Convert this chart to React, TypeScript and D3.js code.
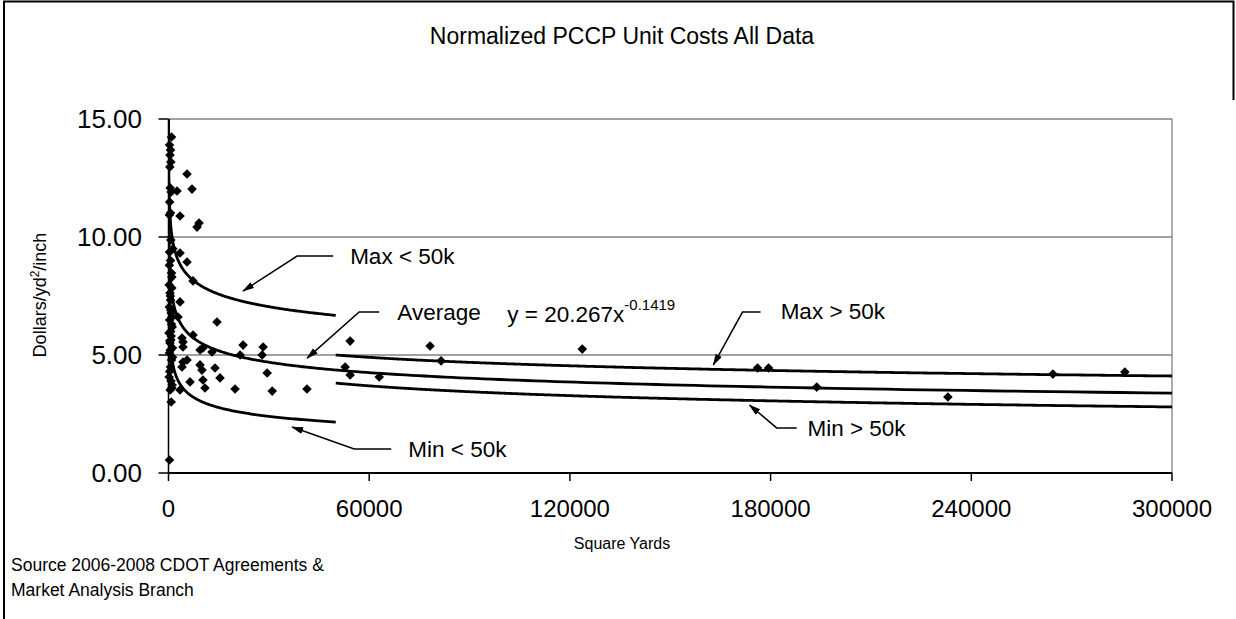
import React from "react";
import * as d3 from "d3";

// ---- data ----
const sqYards = [
  900, 300, 600, 450, 700, 400, 500, 800, 350, 600, 250, 700, 300, 900, 200, 1000, 450, 600, 250, 800,
  350, 1100, 150, 700, 450, 1200, 300, 900, 600, 200, 1100, 500, 800, 300, 1300, 600, 250, 1000, 700, 900, 800,
  500, 1200, 350, 750, 1000, 400, 650, 550,
  3440, 5540, 7330, 5540, 7030, 3440, 8530, 9130, 3440, 4040, 2540, 2840, 1050, 7330, 4340, 4340, 9430, 10300,
  13000, 22300, 28300, 21400, 28000, 4340, 5540, 4040, 9430, 10000, 13900, 15400, 10300, 10900, 19900, 6430,
  3440, 14500, 29500, 31000, 41400, 54300, 52800, 54300, 63000, 78200, 81500, 123700, 176100, 179400, 193800,
  233000, 264400, 285900,
];
const unitCost = [
  14.24, 13.9, 13.69, 13.47, 13.18, 12.97, 12.08, 11.91, 11.48, 11.02, 10.93, 9.87, 9.36, 8.47, 7.97, 7.84, 7.63,
  7.33, 7.03, 6.78, 6.48, 6.19, 5.93, 5.64, 5.51, 5.3, 5.08, 4.79, 4.49, 4.07, 3.73, 3.52, 3.01, 0.55, 9.5, 9.0,
  8.8, 8.3, 6.9, 6.3, 5.8, 5.2, 4.9, 4.3, 3.9, 3.6, 5.6, 6.0, 7.5,
  9.32, 8.94, 8.14, 12.67, 12.03, 10.89, 10.42, 10.59, 7.25, 5.72, 11.95, 6.61, 6.61, 5.85, 5.55, 5.34, 5.21, 5.3,
  5.13, 5.42, 5.34, 5.0, 5.0, 4.7, 4.79, 4.49, 4.58, 4.36, 4.45, 4.03, 3.94, 3.6, 3.56, 3.86,
  3.52, 6.4, 4.24, 3.47, 3.56, 5.59, 4.49, 4.15, 4.07, 5.38, 4.75, 5.25, 4.45, 4.45, 3.64,
  3.22, 4.19, 4.28,
];

// power-law curves y = a * x^b
const curveNames = ["Max < 50k", "Average", "Min < 50k", "Max > 50k", "Min > 50k"];
const curveCoef = [20.8, 20.267, 20.5, 16.35, 24.5];
const curveExp = [-0.105, -0.1419, -0.208, -0.1095, -0.172];
const curveFrom = [10, 10, 10, 50000, 50000];
const curveTo = [50000, 300000, 50000, 300000, 300000];

// callout labels: arrow path in data coords (last point = arrow tip)
const calloutText = ["Max < 50k", "Average", "Min < 50k", "Max > 50k", "Min > 50k"];
const calloutPath: [number, number][][] = [
  [[49230, 9.19], [38450, 9.19], [22290, 7.71]],
  [[63000, 6.82], [57000, 6.82], [41450, 4.87]],
  [[66580, 1.02], [55510, 1.02], [36960, 1.95]],
  [[177000, 6.82], [171600, 6.82], [162900, 4.58]],
  [[187800, 1.91], [181800, 1.91], [173700, 2.88]],
];
const calloutLabelAt: [number, number][] = [
  [54300, 9.19],
  [68400, 6.82],
  [71700, 1.02],
  [183000, 6.86],
  [191000, 1.91],
];

const xTicks = [0, 60000, 120000, 180000, 240000, 300000];
const yTicks = [0, 5, 10, 15];
const equationAt: [number, number] = [101300, 6.4];

const W = 1236;
const H = 619;
const FONT = "Arial, 'Liberation Sans', Helvetica, sans-serif";

export default function App() {
  const x = d3.scaleLinear().domain([0, 300000]).range([168.5, 1172]);
  const y = d3.scaleLinear().domain([0, 15]).range([473, 119]);
  const [x0, x1] = x.range();
  const [yb, yt] = y.range();

  const line = d3
    .line<[number, number]>()
    .x((d) => x(d[0]))
    .y((d) => y(d[1]));

  const curves = curveNames.map((name, i) => {
    const pts: [number, number][] = d3.range(0, 401).map((k) => {
      const xv = curveFrom[i] * Math.pow(curveTo[i] / curveFrom[i], k / 400);
      return [xv, curveCoef[i] * Math.pow(xv, curveExp[i])];
    });
    return { name, d: line(pts) || "" };
  });

  const r = 4.8;
  const diamond = `M0,${-r}L${r},0L0,${r}L${-r},0Z`;

  return (
    <svg
      width={W}
      height={H}
      style={{ position: "absolute", left: 0, top: 0, background: "#fff" }}
      fontFamily={FONT}
    >
      <defs>
        <clipPath id="plotClip">
          <rect x={x0} y={yt} width={x1 - x0} height={yb - yt} />
        </clipPath>
        <marker
          id="arrowHead"
          viewBox="0 0 12 8"
          refX="11"
          refY="4"
          markerWidth="12"
          markerHeight="8"
          markerUnits="userSpaceOnUse"
          orient="auto"
        >
          <path d="M0,0.5 L12,4 L0,7.5 Z" fill="#000" />
        </marker>
      </defs>
      <rect x={0} y={0} width={W} height={H} fill="#fff" />
      {/* outer frame */}
      <path d={`M4,${H} L4,1.5 L1233.5,1.5 L1233.5,100`} fill="none" stroke="#000" strokeWidth={2} />

      {/* title */}
      <text x={622} y={44} textAnchor="middle" fontSize={23} fill="#000">
        Normalized PCCP Unit Costs All Data
      </text>

      {/* gridlines */}
      {yTicks
        .filter((t) => t > 0)
        .map((t) => (
          <line key={t} x1={x0} x2={x1} y1={y(t)} y2={y(t)} stroke="#808080" strokeWidth={1.3} />
        ))}
      <line x1={x1} x2={x1} y1={yt} y2={yb} stroke="#808080" strokeWidth={1.3} />

      {/* axes */}
      <line x1={x0} x2={x0} y1={yt} y2={yb} stroke="#000" strokeWidth={1.5} />
      <line x1={x0} x2={x1} y1={yb} y2={yb} stroke="#000" strokeWidth={1.8} />
      {yTicks.map((t) => (
        <g key={t}>
          <line x1={x0 - 10} x2={x0} y1={y(t)} y2={y(t)} stroke="#000" strokeWidth={1.5} />
          <text x={142} y={y(t)} dy="0.36em" textAnchor="end" fontSize={26} fill="#000">
            {t.toFixed(2)}
          </text>
        </g>
      ))}
      {xTicks.map((t) => (
        <g key={t}>
          <line x1={x(t)} x2={x(t)} y1={yb} y2={yb + 8} stroke="#000" strokeWidth={1.5} />
          <text x={x(t)} y={517} textAnchor="middle" fontSize={24} fill="#000">
            {t}
          </text>
        </g>
      ))}

      {/* axis titles */}
      <text
        transform={`translate(46, 295) rotate(-90)`}
        textAnchor="middle"
        fontSize={18}
        fill="#000"
      >
        Dollars/yd
        <tspan fontSize={12} dy={-7}>
          2
        </tspan>
        <tspan dy={7}>/inch</tspan>
      </text>
      <text x={622} y={549} textAnchor="middle" fontSize={16} fill="#000">
        Square Yards
      </text>
      <text x={11} y={571} fontSize={17.5} fill="#000">
        Source 2006-2008 CDOT Agreements &amp;
      </text>
      <text x={11} y={596} fontSize={17.5} fill="#000">
        Market Analysis Branch
      </text>

      {/* curves */}
      <g clipPath="url(#plotClip)">
        {curves.map((c) => (
          <path key={c.name} d={c.d} fill="none" stroke="#000" strokeWidth={2.8} />
        ))}
      </g>
      {/* points */}
      <g>
        {sqYards.map((sx, i) => (
          <path key={i} d={diamond} transform={`translate(${x(sx)},${y(unitCost[i])})`} fill="#000" />
        ))}
      </g>

      {/* callouts */}
      {calloutText.map((t, i) => (
        <g key={t}>
          <path
            d={line(calloutPath[i]) || ""}
            fill="none"
            stroke="#000"
            strokeWidth={1.5}
            markerEnd="url(#arrowHead)"
          />
          <text
            x={x(calloutLabelAt[i][0])}
            y={y(calloutLabelAt[i][1])}
            dy="0.36em"
            fontSize={22.5}
            fill="#000"
          >
            {t}
          </text>
        </g>
      ))}

      {/* equation */}
      <text x={x(equationAt[0])} y={y(equationAt[1])} fontSize={22.5} fill="#000">
        y = 20.267x
        <tspan fontSize={15} dy={-12}>
          -0.1419
        </tspan>
      </text>
    </svg>
  );
}
